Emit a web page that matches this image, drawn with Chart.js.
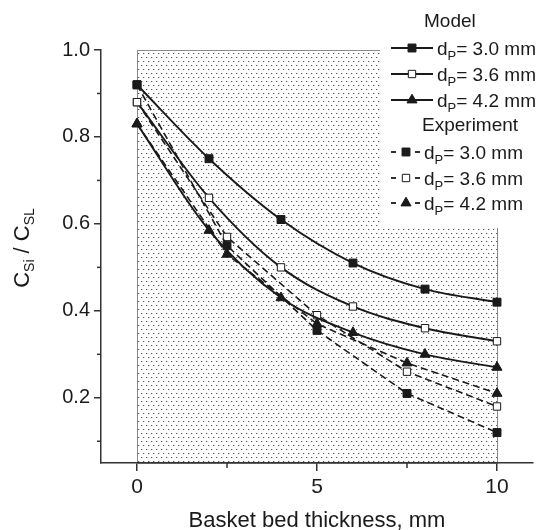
<!DOCTYPE html>
<html>
<head>
<meta charset="utf-8">
<script src="https://cdn.jsdelivr.net/npm/chart.js@4.4.0/dist/chart.umd.min.js"></script>
<style>
  html, body { margin: 0; padding: 0; background: #fff; }
  #wrap { width: 540px; height: 530px; }
</style>
</head>
<body>
<div id="wrap"><canvas id="chart" width="540" height="530"></canvas></div>
<script>
// model curves (solid) and experiment points (dashed)
const modelX = [0, 2, 4, 6, 8, 10];
const model30 = [0.92, 0.75, 0.61, 0.51, 0.45, 0.42];
const model36 = [0.88, 0.66, 0.50, 0.41, 0.36, 0.33];
const model42 = [0.83, 0.585, 0.43, 0.35, 0.30, 0.27];

const expX = [0, 2.5, 5, 7.5, 10];
const exp30 = [0.92, 0.55, 0.355, 0.21, 0.12];
const exp36 = [0.88, 0.57, 0.39, 0.26, 0.18];
const exp42 = [0.83, 0.53, 0.37, 0.28, 0.21];

const sizeLabels = ['3.0 mm', '3.6 mm', '4.2 mm'];
const xTicks = [0, 5, 10];
const xMinor = [2.5, 7.5];
const yTicks = [0.2, 0.4, 0.6, 0.8, 1.0];
const yMinor = [0.1, 0.3, 0.5, 0.7, 0.9];

const INK = '#1a1a1a';
const FONT = '"Liberation Sans", Arial, Helvetica, sans-serif';

const pts = (xs, ys) => xs.map((x, i) => ({ x, y: ys[i] }));

const markers = [
  { pointStyle: 'rect', fill: INK, radius: 5.6 },
  { pointStyle: 'rect', fill: '#fff', radius: 5.2 },
  { pointStyle: 'triangle', fill: INK, radius: 5.8 }
];

function series(label, xs, ys, m, dashed) {
  return {
    label,
    data: pts(xs, ys),
    borderColor: INK,
    borderWidth: dashed ? 1.6 : 1.9,
    borderDash: dashed ? [7, 4] : [],
    cubicInterpolationMode: dashed ? 'default' : 'monotone',
    tension: 0,
    pointStyle: m.pointStyle,
    pointRadius: m.radius,
    pointHoverRadius: m.radius,
    pointBackgroundColor: m.fill,
    pointBorderColor: INK,
    pointBorderWidth: 1,
    fill: false
  };
}

function dotPattern() {
  const c = document.createElement('canvas');
  c.width = 5; c.height = 8;
  const g = c.getContext('2d');
  g.fillStyle = '#fff';
  g.fillRect(0, 0, 5, 8);
  g.fillStyle = '#555';
  g.fillRect(1, 1, 1, 1);
  g.fillRect(3, 5, 1, 1);
  g.fillStyle = '#d0d0d0';
  g.fillRect(2, 1, 1, 1);
  g.fillRect(4, 5, 1, 1);
  return g.createPattern(c, 'repeat');
}

const shadePlugin = {
  id: 'shade',
  beforeDraw(chart) {
    const { ctx, scales: { x, y }, chartArea } = chart;
    const l = x.getPixelForValue(0), r = x.getPixelForValue(10);
    const t = y.getPixelForValue(1.0), b = chartArea.bottom;
    ctx.save();
    ctx.fillStyle = dotPattern();
    ctx.fillRect(l, t, r - l, b - t);
    ctx.strokeStyle = '#8a8a8a';
    ctx.lineWidth = 1;
    ctx.strokeRect(Math.round(l) + 0.5, Math.round(t) + 0.5, r - l, b - t);
    ctx.restore();
  }
};

function drawSub(ctx, parts, x, y, align) {
  // parts: [text, size, dy]
  let total = 0;
  parts.forEach(p => { ctx.font = p[1] + 'px ' + FONT; total += ctx.measureText(p[0]).width; });
  let cx = align === 'center' ? x - total / 2 : x;
  parts.forEach(p => {
    ctx.font = p[1] + 'px ' + FONT;
    ctx.fillText(p[0], cx, y + p[2]);
    cx += ctx.measureText(p[0]).width;
  });
}

const decorPlugin = {
  id: 'decor',
  afterDraw(chart) {
    const { ctx, scales: { x, y }, chartArea } = chart;
    ctx.save();
    // minor ticks
    ctx.strokeStyle = '#333';
    ctx.lineWidth = 1.5;
    yMinor.forEach(v => {
      const py = y.getPixelForValue(v);
      ctx.beginPath(); ctx.moveTo(chartArea.left - 4, py); ctx.lineTo(chartArea.left, py); ctx.stroke();
    });
    xMinor.forEach(v => {
      const px = x.getPixelForValue(v);
      ctx.beginPath(); ctx.moveTo(px, chartArea.bottom); ctx.lineTo(px, chartArea.bottom + 5); ctx.stroke();
    });

    // y title with subscripts
    ctx.fillStyle = INK;
    ctx.textBaseline = 'alphabetic';
    ctx.textAlign = 'left';
    ctx.save();
    ctx.translate(29, 248);
    ctx.rotate(-Math.PI / 2);
    drawSub(ctx, [['C', 22, 0], ['Si', 14, 5], [' / C', 22, 0], ['SL', 14, 5]], 0, 0, 'center');
    ctx.restore();

    // legend
    ctx.fillStyle = '#fff';
    ctx.fillRect(380, 0, 160, 228);
    const ds = chart.data.datasets;
    const rowsY = [48, 74, 100, 152, 178, 203];
    ctx.fillStyle = INK;
    ctx.font = '19px ' + FONT;
    ctx.textBaseline = 'middle';
    ctx.fillText('Model', 424, 22);
    ctx.fillText('Experiment', 422, 126);
    ds.forEach((d, i) => {
      const yy = rowsY[i];
      const dashed = i >= 3;
      ctx.strokeStyle = INK;
      ctx.lineWidth = 1.8;
      ctx.setLineDash([]);
      let mx, tx;
      if (!dashed) {
        ctx.beginPath(); ctx.moveTo(391, yy); ctx.lineTo(433, yy); ctx.stroke();
        mx = 412; tx = 437;
      } else {
        ctx.beginPath(); ctx.moveTo(391, yy); ctx.lineTo(396, yy); ctx.stroke();
        ctx.beginPath(); ctx.moveTo(415, yy); ctx.lineTo(420, yy); ctx.stroke();
        mx = 406; tx = 424;
      }
      ctx.fillStyle = d.pointBackgroundColor;
      ctx.strokeStyle = INK;
      ctx.lineWidth = 1;
      Chart.helpers.drawPoint(ctx, { pointStyle: d.pointStyle, radius: d.pointRadius, borderWidth: 1, rotation: 0 }, mx, yy);
      ctx.fillStyle = INK;
      ctx.textBaseline = 'alphabetic';
      drawSub(ctx, [['d', 19, 0], ['P', 13, 5], ['= ' + sizeLabels[i % 3], 19, 0]], tx, yy + 7, 'left');
    });
    ctx.restore();
  }
};

const ctx = document.getElementById('chart').getContext('2d');
new Chart(ctx, {
  type: 'line',
  data: {
    datasets: [
      series('Model 3.0', modelX, model30, markers[0], false),
      series('Model 3.6', modelX, model36, markers[1], false),
      series('Model 4.2', modelX, model42, markers[2], false),
      series('Exp 3.0', expX, exp30, markers[0], true),
      series('Exp 3.6', expX, exp36, markers[1], true),
      series('Exp 4.2', expX, exp42, markers[2], true)
    ]
  },
  options: {
    responsive: false,
    animation: false,
    layout: { padding: { top: 50, right: 7, left: 0, bottom: 0 } },
    plugins: { legend: { display: false }, tooltip: { enabled: false } },
    scales: {
      x: {
        type: 'linear',
        min: -1,
        max: 11,
        afterBuildTicks: s => { s.ticks = xTicks.map(v => ({ value: v })); },
        afterFit: s => { s.height = 67; },
        ticks: { color: INK, font: { family: FONT, size: 21 }, padding: 4, callback: v => String(v) },
        grid: { drawOnChartArea: false, drawTicks: true, tickLength: 8, color: '#333', lineWidth: 1.5 },
        border: { display: true, color: '#333', width: 1.5 },
        title: { display: true, text: 'Basket bed thickness, mm', color: INK, font: { family: FONT, size: 22 }, padding: { top: 0, bottom: -4 } }
      },
      y: {
        min: 0.05,
        max: 1.0,
        afterBuildTicks: s => { s.ticks = yTicks.map(v => ({ value: v })); },
        afterFit: s => { s.width = 101; },
        ticks: { color: INK, font: { family: FONT, size: 20 }, padding: 4, callback: v => v.toFixed(1) },
        grid: { drawOnChartArea: false, drawTicks: true, tickLength: 7, color: '#333', lineWidth: 1.5 },
        border: { display: true, color: '#333', width: 1.5 }
      }
    }
  },
  plugins: [shadePlugin, decorPlugin]
});
</script>
</body>
</html>
